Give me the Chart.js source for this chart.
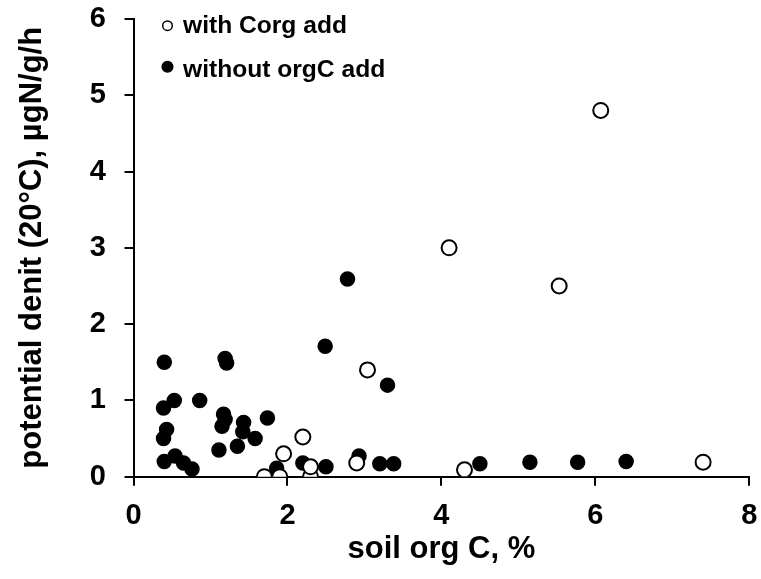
<!DOCTYPE html>
<html>
<head>
<meta charset="utf-8">
<script src="https://cdn.jsdelivr.net/npm/chart.js@4/dist/chart.umd.min.js"></script>
<style>
  html, body { margin: 0; padding: 0; background: #fff; }
  #wrap { width: 761px; height: 579px; }
</style>
</head>
<body>
<div id="wrap"><canvas id="c" width="761" height="579"></canvas></div>
<script>
// ---- data ----
const seriesLabels = ["with Corg add", "without orgC add"];
const withCorgX = [6.07, 4.10, 5.53, 3.04, 2.20, 1.95, 1.70, 1.90, 2.30, 2.30, 2.90, 4.30, 7.40];
const withCorgY = [4.80, 3.00, 2.50, 1.40, 0.52, 0.30, 0.00, 0.00, 0.00, 0.13, 0.18, 0.09, 0.19];
const withoutX = [0.40, 1.19, 1.21, 0.53, 0.39, 0.86, 1.17, 1.19, 1.15, 1.43, 1.42, 1.58, 1.74, 0.43, 0.39, 1.11, 1.35,
                  0.40, 0.54, 0.65, 0.76, 1.86, 2.20, 2.50, 2.93, 3.20, 3.38, 2.49, 2.78, 3.30, 4.50, 5.15, 5.77, 6.40];
const withoutY = [1.50, 1.55, 1.49, 1.00, 0.90, 1.00, 0.82, 0.75, 0.66, 0.71, 0.59, 0.50, 0.77, 0.62, 0.50, 0.35, 0.40,
                  0.20, 0.27, 0.18, 0.10, 0.11, 0.18, 0.13, 0.27, 0.17, 0.17, 1.71, 2.59, 1.20, 0.17, 0.19, 0.19, 0.20];
const xTitle = "soil org C, %";
const yTitle = "potential denit (20°C), µgN/g/h";

const toPts = (xs, ys) => xs.map((x, i) => ({ x: x, y: ys[i] }));
const FONT = "'Liberation Sans', Arial, sans-serif";

const legendPlugin = {
  id: 'insideLegend',
  afterDraw(chart) {
    const ctx = chart.ctx;
    const a = chart.chartArea;
    const items = chart.data.datasets;
    const rows = [{ my: 25.7, by: 33.3 }, { my: 66.7, by: 76.7 }];
    ctx.save();
    items.forEach((ds, i) => {
      const r = rows[i];
      const mx = a.left + 34;
      ctx.beginPath();
      ctx.arc(mx, r.my, i === 0 ? 4.8 : 5.3, 0, Math.PI * 2);
      ctx.fillStyle = ds.backgroundColor;
      ctx.fill();
      ctx.lineWidth = 1.5;
      ctx.strokeStyle = '#000';
      ctx.stroke();
      ctx.fillStyle = '#000';
      ctx.font = "bold 24.6px " + FONT;
      ctx.textBaseline = 'alphabetic';
      ctx.textAlign = 'left';
      ctx.fillText(ds.label, a.left + 49.5, r.by);
    });
    ctx.restore();
  }
};

new Chart(document.getElementById('c'), {
  type: 'scatter',
  data: {
    datasets: [
      {
        label: seriesLabels[0],
        data: toPts(withCorgX, withCorgY),
        backgroundColor: '#ffffff',
        borderColor: '#000000',
        borderWidth: 2,
        pointRadius: 7.5,
        pointHoverRadius: 7.5
      },
      {
        label: seriesLabels[1],
        data: toPts(withoutX, withoutY),
        backgroundColor: '#000000',
        borderColor: '#000000',
        borderWidth: 1.5,
        pointRadius: 7,
        pointHoverRadius: 7
      }
    ]
  },
  plugins: [legendPlugin],
  options: {
    responsive: false,
    animation: false,
    events: [],
    layout: { padding: { left: 0, top: 18.9, right: 11.7, bottom: 0 } },
    plugins: { legend: { display: false }, tooltip: { enabled: false } },
    scales: {
      x: {
        type: 'linear',
        min: 0, max: 8,
        afterFit(s) { s.height = 102.3; s.paddingLeft = 0; s.paddingRight = 0; },
        ticks: { stepSize: 2, color: '#000', padding: 13, font: { family: FONT, size: 29, weight: 'bold' } },
        grid: { drawOnChartArea: false, drawTicks: true, tickLength: 9, color: '#000', lineWidth: 2 },
        border: { color: '#000', width: 2 },
        title: { display: true, text: xTitle, color: '#000', padding: { top: 0, bottom: 11 }, font: { family: FONT, size: 31, weight: 'bold' } }
      },
      y: {
        type: 'linear',
        min: 0, max: 6,
        afterFit(s) { s.width = 133.5; s.paddingTop = 0; s.paddingBottom = 0; },
        ticks: { stepSize: 1, color: '#000', padding: 18.5, font: { family: FONT, size: 29, weight: 'bold' } },
        grid: { drawOnChartArea: false, drawTicks: true, tickLength: 9, color: '#000', lineWidth: 2 },
        border: { color: '#000', width: 2 },
        title: { display: true, text: yTitle, color: '#000', padding: { top: 14, bottom: 0 }, font: { family: FONT, size: 31, weight: 'bold' } }
      }
    }
  }
});
</script>
</body>
</html>
